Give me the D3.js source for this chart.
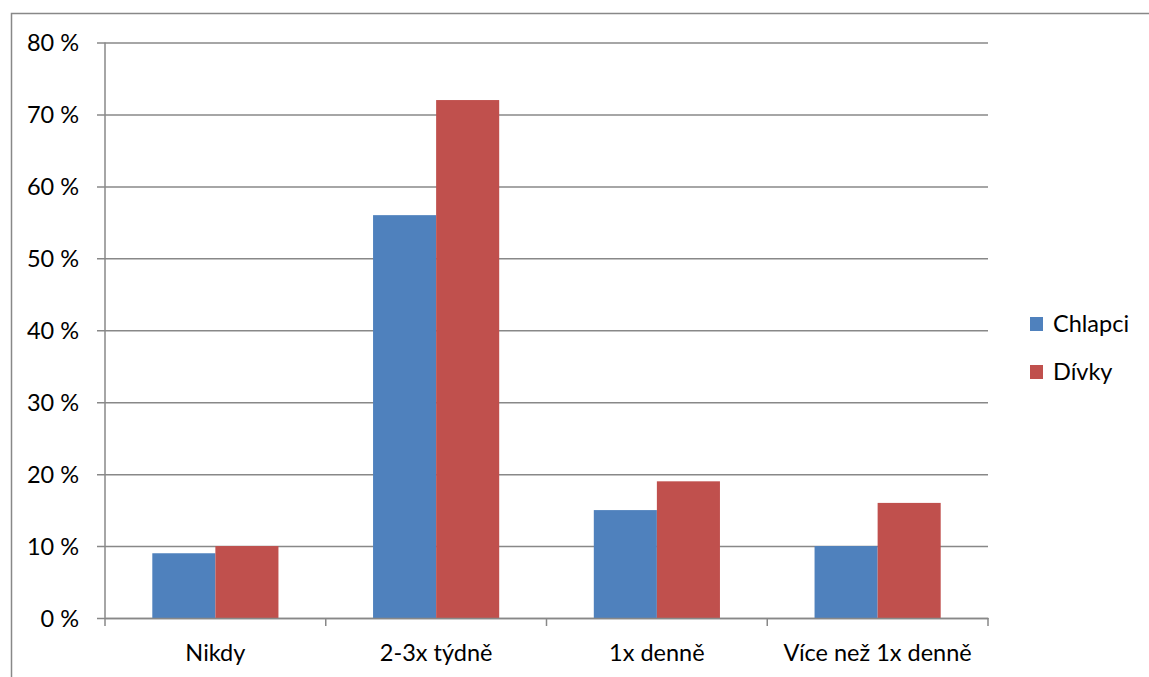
<!DOCTYPE html>
<html>
<head>
<meta charset="utf-8">
<script src="https://d3js.org/d3.v7.min.js"></script>
<style>
  html, body { margin: 0; padding: 0; background: #fff; }
  svg { display: block; }
  text { font-family: Lato, "Open Sans", sans-serif; fill: #000; }
</style>
</head>
<body>
<svg id="chart" width="1149" height="677"></svg>
<script>
// Frequency categories and share of respondents (%) per group
const categories = ["Nikdy", "2-3x týdně", "1x denně", "Více než 1x denně"];
const seriesNames = ["Chlapci", "Dívky"];
const chlapci = [9, 56, 15, 10];
const divky = [10, 72, 19, 16];
const yTicks = [0, 10, 20, 30, 40, 50, 60, 70, 80];

const colors = { "Chlapci": "#4F81BD", "Dívky": "#C0504D" };
const gridColor = "#888888";
const fontSize = "23.5px";

const svg = d3.select("#chart");

// Outer chart frame
svg.append("rect")
  .attr("x", 11.5).attr("y", 13.5)
  .attr("width", 1200).attr("height", 700)
  .attr("fill", "none").attr("stroke", gridColor).attr("stroke-width", 1.5);

const plot = { left: 105, right: 988, top: 42.5, bottom: 618 };

const x = d3.scaleBand().domain(categories).range([plot.left, plot.right]).paddingInner(0).paddingOuter(0);
const x1 = d3.scaleBand().domain(seriesNames).range([0, x.bandwidth()]).paddingInner(0).paddingOuter(0.75);
const y = d3.scaleLinear().domain([0, 80]).range([plot.bottom, plot.top]);

// Horizontal gridlines with short outside ticks
const yAxis = d3.axisLeft(y).tickValues(yTicks)
  .tickSize(-(plot.right - plot.left))
  .tickSizeOuter(0)
  .tickPadding(26)
  .tickFormat(d => d + " %");

const gy = svg.append("g").attr("transform", `translate(${plot.left},0)`).call(yAxis);
gy.select(".domain").remove();
gy.selectAll(".tick line")
  .attr("x1", -8)
  .attr("stroke", gridColor).attr("stroke-width", 1.5);
gy.selectAll(".tick text")
  .style("font-size", fontSize).attr("dy", "0.36em");

// Bars
const data = categories.map((c, i) => ({ category: c, values: [
  { name: "Chlapci", value: chlapci[i] },
  { name: "Dívky", value: divky[i] }
]}));

const groups = svg.append("g").selectAll("g").data(data).join("g")
  .attr("transform", d => `translate(${x(d.category)},0)`);
groups.selectAll("rect").data(d => d.values).join("rect")
  .attr("x", d => x1(d.name))
  .attr("y", d => y(d.value))
  .attr("width", x1.bandwidth())
  .attr("height", d => y(0) - y(d.value))
  .attr("fill", d => colors[d.name]);

// Category axis
const xAxis = d3.axisBottom(x).tickSize(0).tickPadding(26);
const gx = svg.append("g").attr("transform", `translate(0,${plot.bottom})`).call(xAxis);
gx.select(".domain").attr("stroke", gridColor).attr("stroke-width", 1.5);
gx.selectAll(".tick text").style("font-size", fontSize);
// Category separators
const bounds = d3.range(categories.length + 1).map(i => plot.left + i * x.step());
svg.append("g").selectAll("line").data(bounds).join("line")
  .attr("x1", d => d).attr("x2", d => d)
  .attr("y1", plot.bottom).attr("y2", plot.bottom + 8)
  .attr("stroke", gridColor).attr("stroke-width", 1.5);
// Vertical axis line
svg.append("line")
  .attr("x1", plot.left).attr("x2", plot.left)
  .attr("y1", plot.top).attr("y2", plot.bottom)
  .attr("stroke", gridColor).attr("stroke-width", 1.5);

// Legend
const legend = svg.append("g").selectAll("g").data(seriesNames).join("g")
  .attr("transform", (d, i) => `translate(1030,${317 + i * 48})`);
legend.append("rect").attr("width", 13).attr("height", 14).attr("fill", d => colors[d]);
legend.append("text").attr("x", 23).attr("y", 7).attr("dy", "0.36em")
  .style("font-size", fontSize).text(d => d);
</script>
</body>
</html>
